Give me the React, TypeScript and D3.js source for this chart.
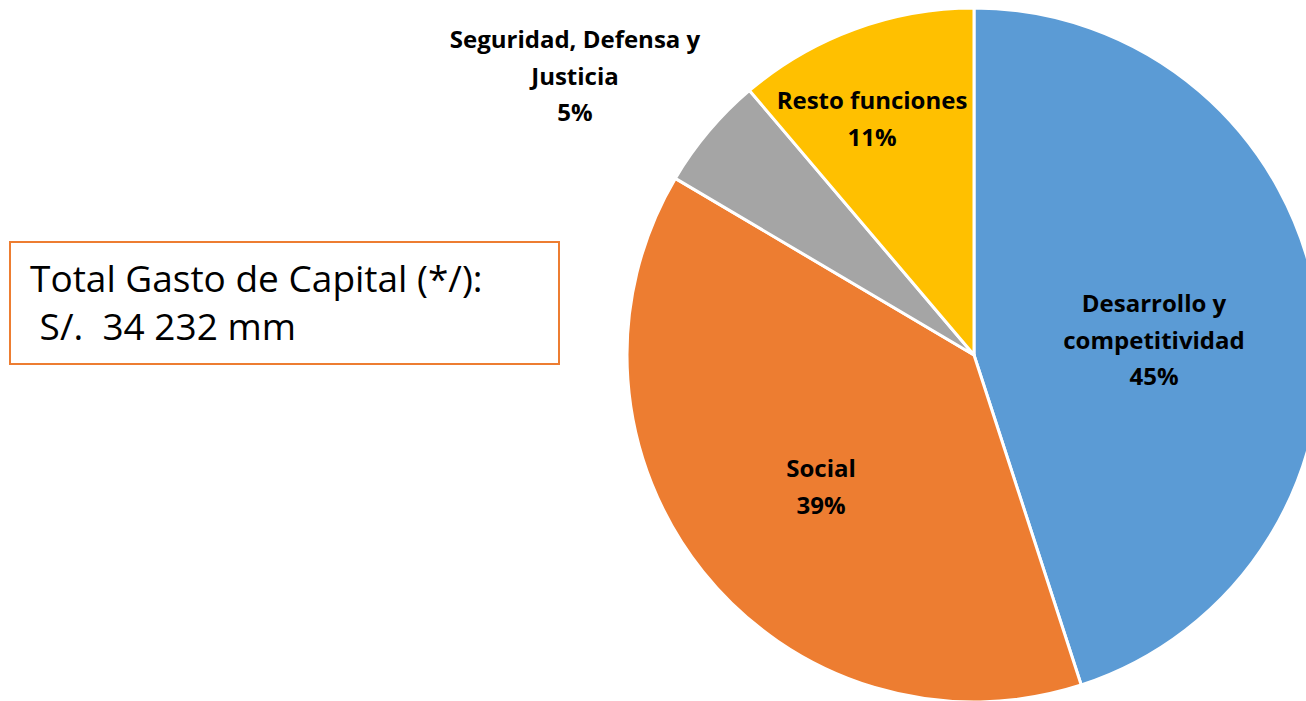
import React from "react";
import * as d3 from "d3";

const categories = ["Desarrollo y competitividad", "Social", "Seguridad, Defensa y Justicia", "Resto funciones"];
const values = [45.0, 38.5, 5.3, 11.2];
const colors = ["#5B9BD5", "#ED7D31", "#A5A5A5", "#FFC000"];
const labelLines = [["Desarrollo y", "competitividad"], ["Social"], ["Seguridad, Defensa y", "Justicia"], ["Resto funciones"]];
const boxLines = ["Total Gasto de Capital (*/):", " S/.  34 232 mm"];

const W = 1306, H = 701;
const cx = 974, cy = 355, R = 347;
const FONT = "'Open Sans', sans-serif";

// label anchor positions (relative to center) for first line center
const labelPos = [
  { x: 180, y: -51 },
  { x: -153, y: 114 },
  { x: -399, y: -315 },
  { x: -102, y: -254 },
];

export default function App() {
  const pie = d3.pie<number>().sort(null).value((d) => d);
  const arcs = pie(values);
  const arc = d3.arc<d3.PieArcDatum<number>>().innerRadius(0).outerRadius(R);
  const total = d3.sum(values);
  const lineH = 36.5;
  return (
    <svg width={W} height={H} style={{ position: "absolute", left: 0, top: 0 }} fontFamily={FONT}>
      <g transform={`translate(${cx},${cy})`}>
        {arcs.map((a, i) => (
          <path key={i} d={arc(a) || ""} fill={colors[i]} stroke="#fff" strokeWidth={3} strokeLinejoin="round" />
        ))}
        {arcs.map((a, i) => {
          const lines = [...labelLines[i], `${Math.round((values[i] / total) * 100)}%`];
          const p = labelPos[i];
          return (
            <text key={"l" + i} textAnchor="middle" fontWeight="bold" fontSize={24} fill="#000">
              {lines.map((t, j) => (
                <tspan key={j} x={p.x} y={p.y + j * lineH} dy="0.35em">{t}</tspan>
              ))}
            </text>
          );
        })}
      </g>
      <rect x={10} y={242} width={549} height={122} fill="#fff" stroke="#ED7D31" strokeWidth={2} />
      <text fontSize={37} fill="#000">
        <tspan x={30} y={292} style={{ whiteSpace: "pre" }}>{boxLines[0]}</tspan>
        <tspan x={30} y={340} style={{ whiteSpace: "pre" }}>{boxLines[1]}</tspan>
      </text>
    </svg>
  );
}
